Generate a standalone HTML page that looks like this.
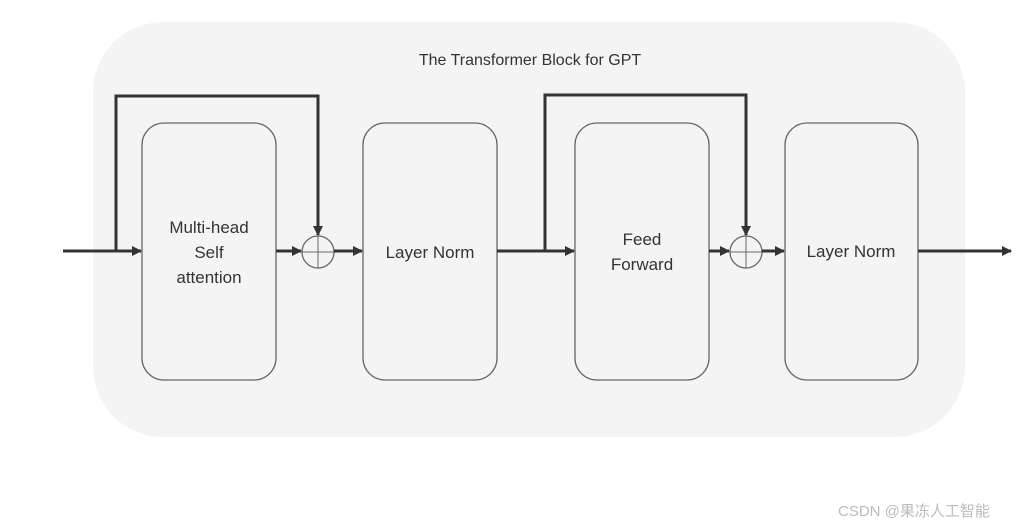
<!DOCTYPE html>
<html><head><meta charset="utf-8"><style>
html,body{margin:0;padding:0;background:#fff;}
svg{display:block}
text{font-family:"Liberation Sans",sans-serif;fill:#333;}
</style></head><body>
<svg width="1032" height="528" viewBox="0 0 1032 528" xmlns="http://www.w3.org/2000/svg">
<defs><marker id="a" markerWidth="10" markerHeight="10" refX="9" refY="5" orient="auto" markerUnits="userSpaceOnUse"><path d="M0,0 L10,5 L0,10 z" fill="#333"/></marker></defs>
<rect x="93" y="22" width="872" height="415" rx="70" fill="#f4f4f4"/>
<text x="530" y="65" font-size="16" text-anchor="middle">The Transformer Block for GPT</text>
<g fill="#f4f4f4" stroke="#666" stroke-width="1.3">
<rect x="142" y="123" width="134" height="257" rx="22"/>
<rect x="363" y="123" width="134" height="257" rx="22"/>
<rect x="575" y="123" width="134" height="257" rx="22"/>
<rect x="785" y="123" width="133" height="257" rx="22"/>
<circle cx="318" cy="252" r="16"/><circle cx="746" cy="252" r="16"/>
</g>
<g stroke="#666" stroke-width="1"><path d="M302,252H334M318,236V268M730,252H762M746,236V268"/></g>
<g stroke="#333" stroke-width="3" fill="none" marker-end="url(#a)">
<path d="M63,251H141"/>
<path d="M116,251V96H318V235"/>
<path d="M276,251H301"/>
<path d="M334,251H362"/>
<path d="M497,251H574"/>
<path d="M545,251V95H746V235"/>
<path d="M709,251H729"/>
<path d="M762,251H784"/>
<path d="M918,251H1011"/>
</g>
<g font-size="17" text-anchor="middle">
<text x="209" y="233">Multi-head</text>
<text x="209" y="258">Self</text>
<text x="209" y="283">attention</text>
<text x="430" y="258">Layer Norm</text>
<text x="642" y="245">Feed</text>
<text x="642" y="270">Forward</text>
<text x="851" y="257">Layer Norm</text>
</g>
<text x="838" y="516" font-size="15" style="fill:#bbb;font-family:'Liberation Sans','Noto Sans CJK SC',sans-serif">CSDN @果冻人工智能</text>
</svg>
</body></html>
